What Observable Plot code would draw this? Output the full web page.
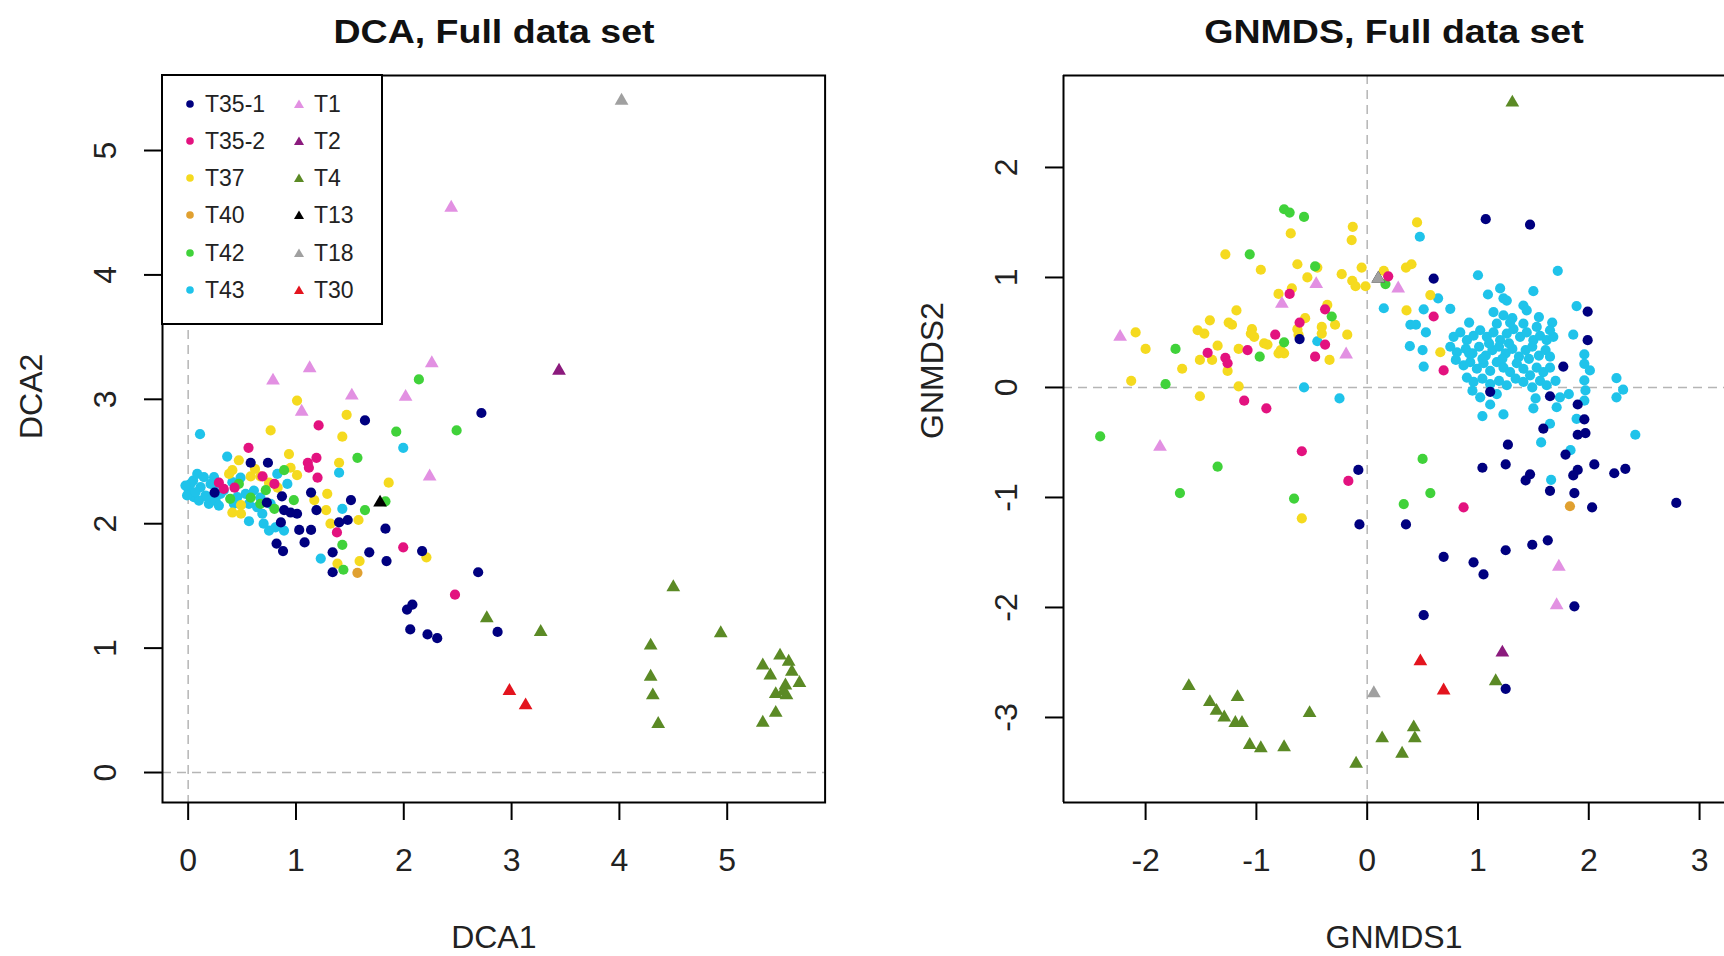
<!DOCTYPE html>
<html><head><meta charset="utf-8">
<script src="https://cdn.jsdelivr.net/npm/d3@7"></script>
<script src="https://cdn.jsdelivr.net/npm/@observablehq/plot@0.6"></script>
<style>
body{margin:0;background:#fff;}
#wrap{position:relative;width:1724px;height:956px;overflow:hidden;font-family:"Liberation Sans",Arial,sans-serif;background:#fff;}
#wrap svg{position:absolute;top:0;}
.title{position:absolute;top:12px;height:40px;line-height:40px;font-size:33.5px;font-weight:bold;color:#111;white-space:nowrap;transform:translateX(-50%) scaleX(1.12);}
#legend{position:absolute;left:161px;top:74px;width:222px;height:251px;box-sizing:border-box;border:2px solid #000;background:#fff;}
#legend .sym{position:absolute;width:14px;height:14px;}
#legend .lab{position:absolute;font-size:23px;line-height:30px;height:30px;color:#222;white-space:nowrap;}
</style>
</head><body>
<div id="wrap">
  <div class="title" style="left:494px">DCA, Full data set</div>
  <div class="title" style="left:1394px">GNMDS, Full data set</div>
</div>
<script>
// ---- groups ----
const groups = ["T35-1","T35-2","T37","T40","T42","T43","T1","T2","T4","T13","T18","T30"];
const colors = ["#00007f","#e3127f","#f5da1f","#e0a030","#40d23a","#1fc3ea","#e290e2","#8b1a7d","#5b8a25","#000000","#a0a0a0","#e3141e"];
const symbols = ["circle","circle","circle","circle","circle","circle","triangle","triangle","triangle","triangle","triangle","triangle"];
const drawOrder = ["T43","T37","T42","T35-2","T40","T35-1","T13","T1","T2","T4","T18","T30"];

// ---- DCA (left panel) ----
const DCA_T35_1 = [[1.64,2.83],[2.72,2.89],[0.58,2.49],[0.74,2.49],[1.14,2.25],[0.245,2.25],[0.87,2.22],[0.73,2.17],[1.51,2.19],[1.19,2.11],[0.89,2.11],[0.95,2.09],[1.01,2.08],[0.86,2.01],[1.40,2.01],[1.48,2.03],[1.03,1.95],[1.14,1.95],[1.83,1.96],[1.08,1.85],[0.82,1.84],[0.88,1.78],[1.34,1.77],[1.68,1.77],[1.84,1.70],[1.34,1.61],[2.17,1.78],[2.69,1.61],[2.03,1.31],[2.08,1.35],[2.06,1.15],[2.22,1.11],[2.31,1.08],[2.87,1.13]];
const DCA_T35_2 = [[0.56,2.61],[1.21,2.79],[1.11,2.49],[1.19,2.53],[1.20,2.37],[0.285,2.33],[0.43,2.29],[0.69,2.38],[0.80,2.32],[1.12,2.45],[1.38,1.93],[1.995,1.81],[2.475,1.43],[0.33,2.28]];
const DCA_T37 = [[1.01,2.99],[0.765,2.75],[1.47,2.875],[1.43,2.70],[0.935,2.56],[0.47,2.51],[0.41,2.43],[1.40,2.49],[0.58,2.38],[0.67,2.38],[1.01,2.39],[0.38,2.40],[1.86,2.33],[1.29,2.24],[1.28,2.11],[0.49,2.15],[0.49,2.08],[1.32,2.00],[1.58,2.03],[1.385,1.68],[1.59,1.70],[2.21,1.73],[0.95,2.45],[0.83,2.29],[1.17,2.19],[0.41,2.09],[0.62,2.44],[0.75,2.33]];
const DCA_T40 = [[1.57,1.605]];
const DCA_T42 = [[2.14,3.16],[1.93,2.74],[2.49,2.75],[1.57,2.53],[0.89,2.43],[0.47,2.32],[0.39,2.20],[0.72,2.27],[0.67,2.16],[0.98,2.19],[1.64,2.11],[1.83,2.18],[1.43,1.83],[1.44,1.63],[0.80,2.12],[0.58,2.21]];
const DCA_T43 = [[0.11,2.72],[0.046,2.347],[0.006,2.267],[0.053,2.213],[0.115,2.294],[0.161,2.227],[0.208,2.32],[0.192,2.16],[0.254,2.186],[0.30,2.24],[0.24,2.374],[0.146,2.374],[0.084,2.40],[0.022,2.32],[0.10,2.186],[0.285,2.146],[0.33,2.267],[0.362,2.54],[0.41,2.334],[0.455,2.213],[0.533,2.24],[0.564,2.16],[0.61,2.267],[0.64,2.133],[0.688,2.08],[0.765,2.16],[0.75,1.945],[0.889,1.945],[0.81,1.97],[0.564,2.02],[0.92,2.32],[0.827,2.40],[1.23,1.72],[1.40,2.41],[1.43,2.12],[1.995,2.61],[-0.025,2.307],[-0.01,2.227],[0.068,2.253],[0.177,2.213],[0.27,2.32],[0.424,2.16],[0.67,2.21],[0.70,2.0],[0.486,2.37]];
const DCA_T1 = [[0.787,3.15],[1.127,3.25],[1.053,2.90],[1.518,3.03],[2.017,3.02],[2.26,3.29],[2.24,2.38],[2.44,4.54]];
const DCA_T2 = [[3.44,3.23]];
const DCA_T4 = [[2.77,1.24],[3.27,1.13],[4.50,1.49],[4.94,1.12],[4.29,1.02],[4.29,0.77],[4.31,0.62],[4.36,0.39],[5.33,0.86],[5.49,0.94],[5.57,0.89],[5.60,0.81],[5.40,0.78],[5.54,0.70],[5.67,0.72],[5.45,0.63],[5.52,0.65],[5.55,0.62],[5.45,0.48],[5.33,0.40]];
const DCA_T13 = [[1.78,2.17]];
const DCA_T18 = [[4.02,5.40]];
const DCA_T30 = [[2.98,0.655],[3.13,0.54]];

// ---- GNMDS (right panel) ----
const NMDS_T35_1 = [[-0.61,0.44],[-0.08,-0.75],[0.60,0.99],[1.07,1.53],[1.47,1.48],[1.99,0.69],[1.99,0.43],[1.77,0.19],[1.11,-0.04],[1.65,-0.08],[1.90,-0.155],[1.96,-0.29],[1.90,-0.43],[1.97,-0.415],[1.59,-0.375],[1.27,-0.52],[1.79,-0.61],[1.04,-0.73],[1.25,-0.70],[1.47,-0.79],[1.43,-0.845],[2.05,-0.70],[1.90,-0.75],[1.86,-0.80],[2.23,-0.78],[2.33,-0.74],[1.65,-0.94],[1.87,-0.96],[2.03,-1.09],[2.79,-1.05],[-0.07,-1.245],[0.35,-1.245],[0.69,-1.54],[0.96,-1.59],[1.05,-1.70],[1.25,-1.48],[1.49,-1.43],[1.63,-1.39],[0.51,-2.07],[1.87,-1.99],[1.25,-2.74]];
const NMDS_T35_2 = [[-0.70,0.85],[-0.61,0.59],[-0.38,0.71],[-0.83,0.48],[-1.08,0.34],[-1.44,0.315],[-1.28,0.27],[-1.26,0.22],[-0.47,0.28],[-0.38,0.39],[-1.11,-0.12],[-0.91,-0.19],[-0.59,-0.58],[-0.17,-0.85],[0.19,1.01],[0.60,0.645],[0.69,0.155],[0.87,-1.09]];
const NMDS_T37 = [[0.45,1.50],[-0.13,1.46],[-0.14,1.34],[-0.69,1.40],[-1.28,1.21],[-0.96,1.07],[-0.63,1.12],[-0.45,1.09],[-0.54,1.00],[-0.23,1.03],[-0.05,1.09],[-0.135,0.97],[-0.105,0.92],[-0.015,0.92],[0.15,1.06],[0.35,1.09],[0.40,1.12],[-0.68,0.90],[-0.80,0.85],[-1.18,0.70],[-1.42,0.61],[-1.25,0.59],[-1.22,0.57],[-1.53,0.52],[-1.47,0.49],[-2.09,0.50],[-2.00,0.35],[-1.67,0.17],[-1.51,0.25],[-1.40,0.25],[-1.35,0.38],[-1.26,0.15],[-1.16,0.35],[-1.16,0.01],[-1.51,-0.08],[-2.13,0.06],[-1.04,0.53],[-1.02,0.46],[-0.93,0.40],[-0.90,0.39],[-0.78,0.34],[-0.75,0.31],[-0.80,0.31],[-0.56,0.63],[-0.41,0.55],[-0.41,0.49],[-0.29,0.57],[-0.18,0.48],[-0.63,0.53],[-0.62,0.48],[-0.34,0.25],[0.355,0.70],[0.57,0.84],[0.66,0.32],[-0.36,0.75],[-1.05,0.49],[-0.59,-1.19]];
const NMDS_T40 = [[1.83,-1.08]];
const NMDS_T42 = [[-0.75,1.62],[-0.70,1.59],[-0.57,1.55],[-1.06,1.21],[-1.73,0.35],[-1.82,0.03],[-2.41,-0.445],[-1.35,-0.72],[-0.97,0.28],[-0.75,0.41],[-0.32,0.645],[0.165,0.94],[0.50,-0.65],[-0.47,1.10],[-1.69,-0.96],[-0.66,-1.01],[0.57,-0.96],[0.33,-1.06]];
const NMDS_T43 = [[0.475,1.37],[0.15,0.72],[-0.57,0.00],[-0.25,-0.10],[-0.45,0.42],[0.51,0.71],[0.64,0.81],[0.39,0.57],[0.44,0.57],[0.53,0.50],[0.385,0.375],[0.50,0.34],[0.51,0.19],[1.00,1.02],[1.72,1.06],[1.09,0.845],[1.20,0.90],[1.23,0.81],[1.26,0.79],[1.50,0.875],[1.41,0.745],[1.44,0.70],[1.14,0.685],[1.23,0.655],[1.31,0.63],[1.55,0.64],[1.67,0.59],[1.89,0.74],[1.86,0.48],[0.92,0.59],[0.75,0.715],[1.96,0.30],[1.96,0.215],[2.01,0.155],[1.96,0.064],[1.97,-0.027],[1.96,-0.12],[2.25,0.085],[2.31,-0.02],[2.25,-0.09],[2.42,-0.43],[1.89,-0.285],[1.65,-0.33],[1.57,-0.50],[1.835,-0.57],[1.66,-0.84],[1.04,-0.26],[1.23,-0.245],[0.95,-0.03],[1.02,-0.09],[1.11,-0.155],[1.17,-0.06],[1.50,-0.19],[1.52,-0.10],[1.71,-0.18],[1.74,-0.09],[1.82,-0.06],
[0.78,0.46],[0.84,0.50],[0.90,0.43],[0.96,0.47],[1.02,0.52],[1.08,0.46],[1.14,0.50],[1.20,0.43],[1.26,0.49],[1.32,0.53],[1.38,0.46],[1.44,0.50],[1.50,0.43],[1.56,0.47],[1.62,0.43],[1.68,0.46],
[0.75,0.37],[0.81,0.32],[0.89,0.35],[0.95,0.31],[1.01,0.37],[1.07,0.29],[1.13,0.34],[1.19,0.37],[1.25,0.31],[1.31,0.35],[1.37,0.28],[1.43,0.34],[1.49,0.37],[1.55,0.29],[1.61,0.34],[1.65,0.28],
[0.80,0.25],[0.87,0.20],[0.93,0.23],[0.99,0.17],[1.05,0.22],[1.11,0.15],[1.17,0.23],[1.23,0.18],[1.29,0.14],[1.35,0.22],[1.41,0.17],[1.47,0.11],[1.53,0.18],[1.59,0.14],[1.65,0.18],
[0.90,0.09],[0.96,0.05],[1.04,0.08],[1.11,0.03],[1.19,0.06],[1.26,0.02],[1.34,0.08],[1.41,0.05],[1.49,0.00],[1.56,0.06],[1.62,0.02],[1.70,0.06],
[0.92,0.31],[1.10,0.40],[1.28,0.40],[1.46,0.26],[1.22,0.26],[1.04,0.26],[1.53,0.55],[1.65,0.52],[1.41,0.58],[1.29,0.59],[1.17,0.58]];
const NMDS_T1 = [[-2.23,0.46],[-0.77,0.76],[-0.46,0.94],[-0.19,0.30],[0.28,0.90],[-1.87,-0.54],[1.73,-1.63],[1.71,-1.98]];
const NMDS_T2 = [[1.22,-2.41]];
const NMDS_T4 = [[-1.61,-2.715],[-1.42,-2.86],[-1.17,-2.815],[-1.36,-2.94],[-1.29,-3.00],[-1.19,-3.05],[-1.13,-3.05],[-0.52,-2.96],[-1.06,-3.25],[-0.96,-3.28],[-0.75,-3.27],[-0.10,-3.42],[0.135,-3.19],[0.315,-3.33],[0.42,-3.09],[0.43,-3.19],[1.16,-2.67],[1.31,2.59]];
const NMDS_T13 = [[0.10,0.99]];
const NMDS_T18 = [[0.10,0.99],[0.06,-2.78]];
const NMDS_T30 = [[0.48,-2.49],[0.69,-2.755]];

// ---- axis ticks & labels ----
const dcaXTicks = [0,1,2,3,4,5];
const dcaYTicks = [0,1,2,3,4,5];
const nmdsXTicks = [-2,-1,0,1,2,3];
const nmdsYTicks = [-3,-2,-1,0,1,2];
const dcaSets = [DCA_T35_1,DCA_T35_2,DCA_T37,DCA_T40,DCA_T42,DCA_T43,DCA_T1,DCA_T2,DCA_T4,DCA_T13,DCA_T18,DCA_T30];
const nmdsSets = [NMDS_T35_1,NMDS_T35_2,NMDS_T37,NMDS_T40,NMDS_T42,NMDS_T43,NMDS_T1,NMDS_T2,NMDS_T4,NMDS_T13,NMDS_T18,NMDS_T30];

function rowsFrom(sets){
  const rows=[];
  drawOrder.forEach(g=>{ sets[groups.indexOf(g)].forEach(([x,y])=>rows.push({g,x,y})); });
  return rows;
}

const FONT = '"Liberation Sans", Arial, sans-serif';
function panel(opts){
  const {rows, xdom, ydom, xticks, yticks, ml, mr, xlabel, ylabel, framed} = opts;
  const marks = [
    Plot.ruleX([0],{stroke:"#b5b5b5",strokeWidth:1.5,strokeDasharray:"9,6"}),
    Plot.ruleY([0],{stroke:"#b5b5b5",strokeWidth:1.5,strokeDasharray:"9,6"}),
    Plot.dot(rows,{x:"x",y:"y",fill:"g",symbol:"g",r:5.1}),
    Plot.axisX({ticks:xticks,tickSize:18,tickPadding:28,tickFormat:d=>String(d),fontSize:32,stroke:"#000",strokeWidth:2,fill:"#222",label:null}),
    Plot.axisY({ticks:yticks,tickSize:18,tickPadding:29,tickRotate:-90,tickFormat:d=>String(d),fontSize:32,stroke:"#000",strokeWidth:2,fill:"#222",label:null}),
    Plot.text([xlabel],{text:d=>d,frameAnchor:"bottom",dy:145,fontSize:32,fill:"#222"}),
    Plot.text([ylabel],{text:d=>d,frameAnchor:"left",dx:-131,rotate:-90,fontSize:32,fill:"#222"})
  ];
  if (framed) marks.push(Plot.frame({stroke:"#000",strokeWidth:2}));
  else {
    marks.push(Plot.ruleX([xdom[0]],{stroke:"#000",strokeWidth:2}));
    marks.push(Plot.ruleY([ydom[0]],{stroke:"#000",strokeWidth:2}));
    marks.push(Plot.ruleY([ydom[1]],{stroke:"#000",strokeWidth:2}));
  }
  return Plot.plot({
    width:862, height:956,
    marginLeft:ml, marginRight:mr, marginTop:75, marginBottom:154,
    style:{fontFamily:FONT, background:"transparent"},
    x:{domain:xdom}, y:{domain:ydom},
    color:{domain:groups, range:colors},
    symbol:{domain:groups, range:symbols},
    marks
  });
}

const wrap = document.getElementById("wrap");
const left = panel({rows:rowsFrom(dcaSets), xdom:[-0.238,5.908], ydom:[-0.241,5.603], xticks:dcaXTicks, yticks:dcaYTicks, ml:162, mr:37.4, xlabel:"DCA1", ylabel:"DCA2", framed:true});
left.style.left = "0px";
const right = panel({rows:rowsFrom(nmdsSets), xdom:[-2.741,3.225], ydom:[-3.773,2.836], xticks:nmdsXTicks, yticks:nmdsYTicks, ml:201, mr:0, xlabel:"GNMDS1", ylabel:"GNMDS2", framed:false});
right.style.left = "862px";
wrap.insertBefore(right, wrap.firstChild);
wrap.insertBefore(left, wrap.firstChild);

// ---- legend (inside the DCA panel, top-left) ----
const leg = document.createElement("div");
leg.id = "legend";
groups.forEach((g,i)=>{
  const col = i<6?0:1, row = i%6;
  const cy = 27.7 + row*37.2;
  const sx = col===0?27:136, tx = col===0?42:151;
  const s = document.createElementNS("http://www.w3.org/2000/svg","svg");
  s.setAttribute("class","sym");
  s.setAttribute("viewBox","-7 -7 14 14");
  s.style.left = (sx-7)+"px"; s.style.top = (cy-7)+"px";
  const shape = symbols[i]==="circle"
    ? `<circle r="3.8" fill="${colors[i]}"/>`
    : `<path d="M0,-4.6L5,4L-5,4Z" fill="${colors[i]}"/>`;
  s.innerHTML = shape;
  leg.appendChild(s);
  const t = document.createElement("div");
  t.className = "lab"; t.textContent = g;
  t.style.left = tx+"px"; t.style.top = (cy-15)+"px";
  leg.appendChild(t);
});
wrap.appendChild(leg);
</script>
</body></html>
